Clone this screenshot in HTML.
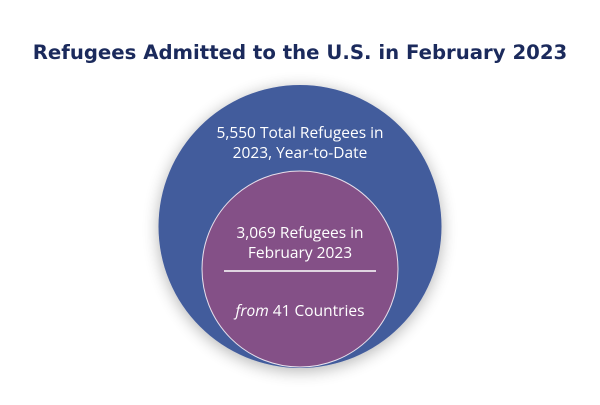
<!DOCTYPE html>
<html><head><meta charset="utf-8"><style>
body{margin:0;width:600px;height:400px;background:#fff;overflow:hidden;font-family:"Open Sans","DejaVu Sans","Liberation Sans",sans-serif;}
</style></head><body>
<svg width="600" height="400" viewBox="0 0 600 400" xmlns="http://www.w3.org/2000/svg">
<defs>
<filter id="sh" x="-30%" y="-30%" width="160%" height="160%"><feGaussianBlur in="SourceAlpha" stdDeviation="8"/><feOffset dx="0" dy="3"/><feComponentTransfer><feFuncA type="linear" slope="0.3"/></feComponentTransfer><feMerge><feMergeNode/><feMergeNode in="SourceGraphic"/></feMerge></filter>
</defs>
<text x="300" y="59" text-anchor="middle" font-family="DejaVu Sans, Liberation Sans, sans-serif" font-weight="bold" font-size="19.7" fill="#1b2a5c">Refugees Admitted to the U.S. in February 2023</text>
<circle cx="300" cy="226.5" r="141.5" fill="#435c9c" filter="url(#sh)"/>
<circle cx="300" cy="269" r="98" fill="#845087" stroke="#e8e0ec" stroke-width="1"/>
<g fill="#fff" font-size="15.5" text-anchor="middle">
<text x="300" y="138">5,550 Total Refugees in</text>
<text x="300" y="158">2023, Year-to-Date</text>
<text x="300" y="238">3,069 Refugees in</text>
<text x="300" y="258">February 2023</text>
<text x="300" y="316"><tspan font-style="italic">from</tspan> 41 Countries</text>
</g>
<line x1="224" y1="271" x2="376" y2="271" stroke="#fff" stroke-width="1.5"/>
</svg>
</body></html>
